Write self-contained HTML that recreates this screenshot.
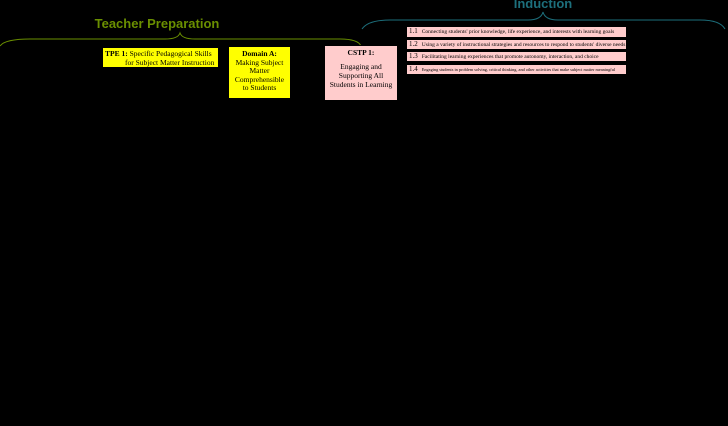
<html><head><style>
body{margin:0;width:728px;height:426px;background:#000;position:relative;overflow:hidden;font-family:"Liberation Serif",serif}
.b{position:absolute;border:1px solid #000;box-sizing:border-box;color:#000}
.y{background:#ff0}.p{background:#fcc}
.r{position:absolute;left:407px;width:219px;background:#fcc;font-size:5.5px;line-height:9px;white-space:nowrap;overflow:hidden;padding-left:2px;box-sizing:border-box}
.r b{font-weight:normal;font-size:7px;margin-right:4px}
</style></head><body>
<div style="position:absolute;left:57px;top:16px;width:200px;text-align:center;font:bold 13px 'Liberation Sans',sans-serif;color:#6a8f00">Teacher Preparation</div>
<div style="position:absolute;left:443px;top:-4px;width:200px;text-align:center;font:bold 13px 'Liberation Sans',sans-serif;color:#1d6f7c">Induction</div>
<svg width="728" height="426" style="position:absolute;left:0;top:0">
<path d="M0,46 Q5,39 30,39 L165,39 Q178,39 180,33 Q182,39 195,39 L340,39 Q358,39 361,46" fill="none" stroke="#6a8f00" stroke-width="1"/>
<path d="M362,29 Q368,20 390,20 L528,20 Q541,20 543,12 Q545,20 558,20 L700,20 Q720,20 725,29" fill="none" stroke="#1d6f7c" stroke-width="1"/>
</svg>
<div class="b y" style="left:102px;top:47px;width:117px;height:21px;font-size:7.5px;line-height:9px;padding:1px 2px"><b>TPE 1:</b> Specific Pedagogical Skills<br><span style="padding-left:20px">for Subject Matter Instruction</span></div>
<div class="b y" style="left:228px;top:46px;width:63px;height:53px;font-size:7.5px;line-height:8.5px;text-align:center;padding-top:3px"><b>Domain A:</b><br>Making Subject<br>Matter<br>Comprehensible<br>to Students</div>
<div class="b p" style="left:324px;top:45px;width:74px;height:56px;font-size:7.5px;line-height:9px;text-align:center;padding-top:2px"><b>CSTP 1:</b><div style="margin-top:5px">Engaging and<br>Supporting All<br>Students in Learning</div></div>
<div class="r" style="top:27px;height:10px"><b>1.1</b>Connecting students' prior knowledge, life experience, and interests with learning goals</div>
<div class="r" style="top:40px;height:9px"><b>1.2</b>Using a variety of instructional strategies and resources to respond to students' diverse needs</div>
<div class="r" style="top:52px;height:9px"><b>1.3</b>Facilitating learning experiences that promote autonomy, interaction, and choice</div>
<div class="r" style="top:65px;height:9px"><b>1.4</b><span style="font-size:4.3px">Engaging students in problem solving, critical thinking, and other activities that make subject matter meaningful</span></div>
</body></html>
